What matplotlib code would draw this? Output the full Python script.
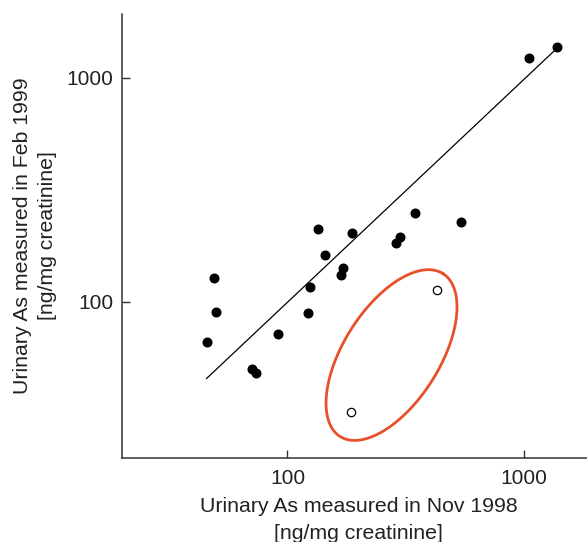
import numpy as np
import matplotlib
matplotlib.use("Agg")
import matplotlib.pyplot as plt
from matplotlib.ticker import FixedLocator, FixedFormatter, NullLocator

plt.rcParams['font.family'] = ['Liberation Sans', 'DejaVu Sans']

# urinary As, Nov 1998 (x) vs Feb 1999 (y), ng/mg creatinine
nov_1998 = [45.5, 48.7, 50.1, 71.1, 73.3, 91.6, 122.6, 125, 135, 144.5,
            169, 171, 188, 288, 300, 344, 542, 1049, 1377]
feb_1999 = [66.3, 128, 90.3, 50.2, 48.2, 72, 89.3, 116.7, 212, 162,
            132, 142, 203, 183, 195, 250, 228, 1228, 1374]

# outliers (open circles)
out_nov = [426, 185]
out_feb = [113, 32]

# fitted line end points
fit_x = [45.5, 1350]
fit_y = [45.3, 1334]

tick_vals = [100, 1000]
tick_labels = ['100', '1000']

fig = plt.figure(figsize=(5.87, 5.42), dpi=100)
ax = fig.add_axes([0.2078, 0.155, 0.7922, 0.819])

ax.plot(fit_x, fit_y, color='black', lw=0.9, zorder=2)
ax.plot(nov_1998, feb_1999, 'o', color='black', ms=6.2, zorder=3)
ax.plot(out_nov, out_feb, 'o', mfc='white', mec='black', mew=0.9, ms=6, zorder=3)

ax.set_xscale('log')
ax.set_yscale('log')
ax.set_xlim(20, 1840)
ax.set_ylim(20, 1930)

# ellipse around the outliers, drawn in log space
# (centre in data units, semi axes in decades of x, tilt in screen degrees)
cx, cy = 275, 57.7
a, b, tilt = 0.407, 0.2025, 57.75
ratio = 237 / 224  # px per decade x / px per decade y
t = np.linspace(0, 2 * np.pi, 300)
th = np.radians(tilt)
dx = a * np.cos(th) * np.cos(t) - b * np.sin(th) * np.sin(t)
dy = (a * np.sin(th) * np.cos(t) + b * np.cos(th) * np.sin(t)) * ratio
ax.plot(10 ** (np.log10(cx) + dx), 10 ** (np.log10(cy) + dy),
        color='#E8502A', lw=2.0, zorder=2)

for axis in (ax.xaxis, ax.yaxis):
    axis.set_major_locator(FixedLocator(tick_vals))
    axis.set_major_formatter(FixedFormatter(tick_labels))
    axis.set_minor_locator(NullLocator())

ax.tick_params(direction='in', length=6, width=1.0, color='#333333',
               labelsize=15, labelcolor='#222222')
ax.tick_params(axis='x', pad=8)
ax.tick_params(axis='y', pad=6)

for side in ('top', 'right'):
    ax.spines[side].set_visible(False)
for side in ('left', 'bottom'):
    ax.spines[side].set_linewidth(1.1)
    ax.spines[side].set_color('#333333')

fig.text(0.611, 0.041, 'Urinary As measured in Nov 1998\n[ng/mg creatinine]',
         ha='center', va='center', ma='center', fontsize=15.3,
         color='#222222', linespacing=1.5)
fig.text(0.059, 0.5646, 'Urinary As measured in Feb 1999\n[ng/mg creatinine]',
         ha='center', va='center', ma='center', fontsize=15.3,
         color='#222222', linespacing=1.4, rotation=90)

fig.savefig('out.png', dpi=100)
